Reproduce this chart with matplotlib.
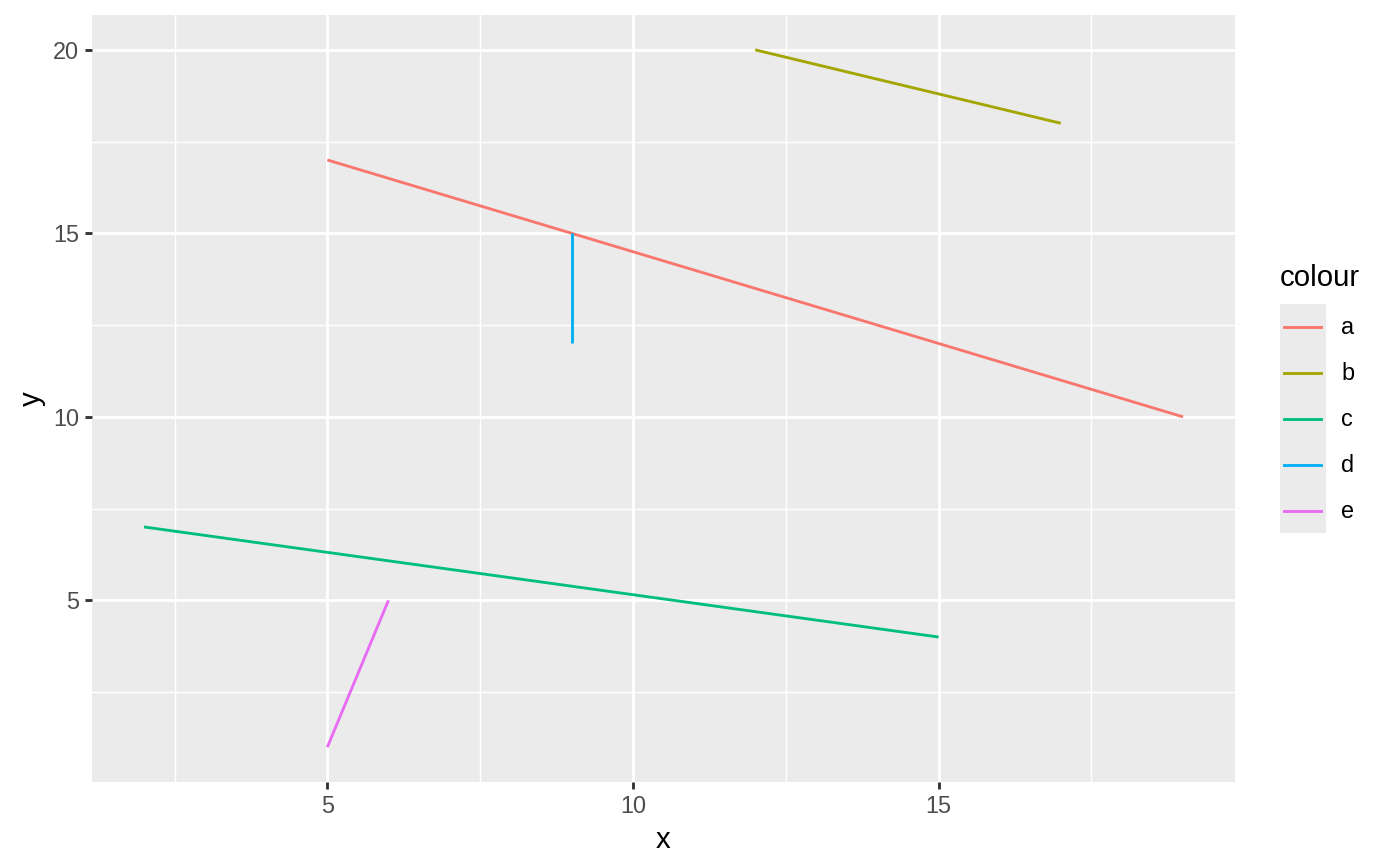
import matplotlib
matplotlib.use("Agg")
import matplotlib.pyplot as plt
from matplotlib.lines import Line2D
from matplotlib.patches import Rectangle

# segment data
colours = ["a", "b", "c", "d", "e"]
x_start = [5, 12, 2, 9, 5]
y_start = [17, 20, 7, 15, 1]
x_end = [19, 17, 15, 9, 6]
y_end = [10, 18, 4, 12, 5]
palette = ["#F8766D", "#A3A500", "#00BF7D", "#00B0F6", "#E76BF3"]

x_ticks = [5, 10, 15]
y_ticks = [5, 10, 15, 20]

plt.rcParams["font.family"] = ["Liberation Sans", "DejaVu Sans"]

W, H, DPI = 1400, 866, 192
fig = plt.figure(figsize=(W / DPI, H / DPI), dpi=DPI)
ax = fig.add_axes([92 / W, 1 - 782 / H, (1235 - 92) / W, (782 - 15) / H])

ax.set_facecolor("#EBEBEB")
for s in ax.spines.values():
    s.set_visible(False)

lw = 1.067
for i, c in enumerate(colours):
    ax.plot([x_start[i], x_end[i]], [y_start[i], y_end[i]], color=palette[i],
            lw=lw, solid_capstyle="butt", zorder=3)

# ggplot-style expanded limits
xmin, xmax = min(x_start + x_end), max(x_start + x_end)
ymin, ymax = min(y_start + y_end), max(y_start + y_end)
dx, dy = (xmax - xmin) * 0.05, (ymax - ymin) * 0.05
ax.set_xlim(xmin - dx, xmax + dx)
ax.set_ylim(ymin - dy, ymax + dy)

ax.set_xticks(x_ticks)
ax.set_yticks(y_ticks)
ax.set_xticks([2.5, 7.5, 12.5, 17.5], minor=True)
ax.set_yticks([2.5, 7.5, 12.5, 17.5], minor=True)
ax.grid(which="major", color="white", lw=lw)
ax.grid(which="minor", color="white", lw=lw / 2)
ax.set_axisbelow(True)
ax.tick_params(which="major", length=2.75, width=lw, color="#333333",
               labelcolor="#4D4D4D", labelsize=8.8, pad=2.2)
ax.tick_params(which="minor", length=0)

ax.set_xlabel("x", fontsize=11, labelpad=2.75)
ax.set_ylabel("y", fontsize=11, labelpad=2.75)

# legend drawn by hand in figure pixels
fig.text(1280 / W, 1 - 278 / H, "colour", fontsize=11, ha="left", va="center")
fig.add_artist(Rectangle((1280 / W, 1 - 533 / H), 46 / W, 229 / H,
                         transform=fig.transFigure, color="#EBEBEB", lw=0))
key_y = [327, 373, 419, 465, 511]
for i, c in enumerate(colours):
    yy = 1 - key_y[i] / H
    fig.add_artist(Line2D([1284 / W, 1321 / W], [yy, yy], color=palette[i],
                          lw=lw, transform=fig.transFigure))
    fig.text(1341 / W, yy, c, fontsize=8.8, ha="left", va="center")

fig.savefig("out.png", dpi=DPI)
